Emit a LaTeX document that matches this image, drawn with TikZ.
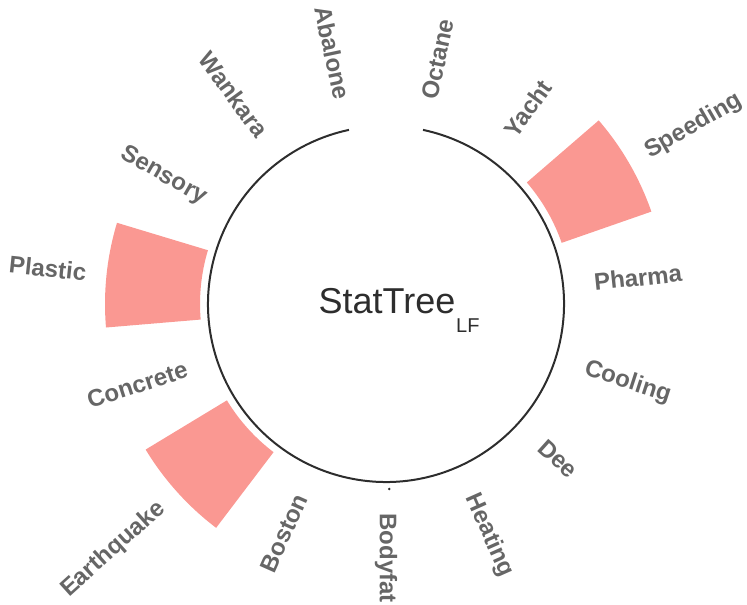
\documentclass[tikz,border=0pt]{standalone}
\usepackage{fontspec}
\setmainfont{Liberation Sans}
\usetikzlibrary{positioning}
\definecolor{barred}{RGB}{250,152,146}
\definecolor{lblgray}{RGB}{102,102,102}
\definecolor{ringgray}{RGB}{45,45,45}
\tikzset{
  ring/.style={draw=ringgray,line width=1pt},
  barwedge/.style={fill=barred,draw=none},
  lbl/.style={font=\fontsize{12}{14}\selectfont\bfseries,text=lblgray,inner sep=0pt},
  ttl/.style={font=\fontsize{18}{20}\selectfont,text=ringgray,inner sep=0pt},
  subttl/.style={font=\fontsize{10}{12}\selectfont,text=ringgray,inner sep=0pt}
}

\begin{document}
\begin{tikzpicture}[x=0.5pt,y=0.5pt]
  \useasboundingbox (0,0) rectangle (747,-604);
  \begin{scope}[shift={(386,-304)}]
  % bars
  \foreach \a in {60,228,276}
    \fill[barwedge] ({90-\a+10.8}:186) arc[start angle=90-\a+10.8,end angle=90-\a-10.8,radius=186]
      -- ({90-\a-10.8}:281) arc[start angle=90-\a-10.8,end angle=90-\a+10.8,radius=281] -- cycle;

  % ring
  \draw[ring] (78:178) arc[start angle=78,end angle=-258,radius=178];
  \fill[ringgray] (-89:185) circle[radius=1.3];

  % labels
  \foreach \a/\t/\r in {12/Octane/209, 36/Yacht/209, 60/Speeding/301, 84/Pharma/209,
      108/Cooling/209, 132/Dee/209, 156/Heating/209, 180/Bodyfat/209}
    \node[lbl,anchor=west,rotate=90-\a] (l\t) at ({90-\a}:\r) {\t};
  \foreach \a/\t/\r in {204/Boston/209, 228/Earthquake/301, 252/Concrete/209,
      276/Plastic/301, 300/Sensory/209, 324/Wankara/209, 348/Abalone/209}
    \node[lbl,anchor=east,rotate=270-\a] (l\t) at ({90-\a}:\r) {\t};

  % centre
  \node[ttl,anchor=base] (title) at (1,-9) {StatTree};
  \node[subttl,anchor=base west,yshift=-9.5pt] (titlesub) at (title.base east) {LF};
  \end{scope}
\end{tikzpicture}
\end{document}
